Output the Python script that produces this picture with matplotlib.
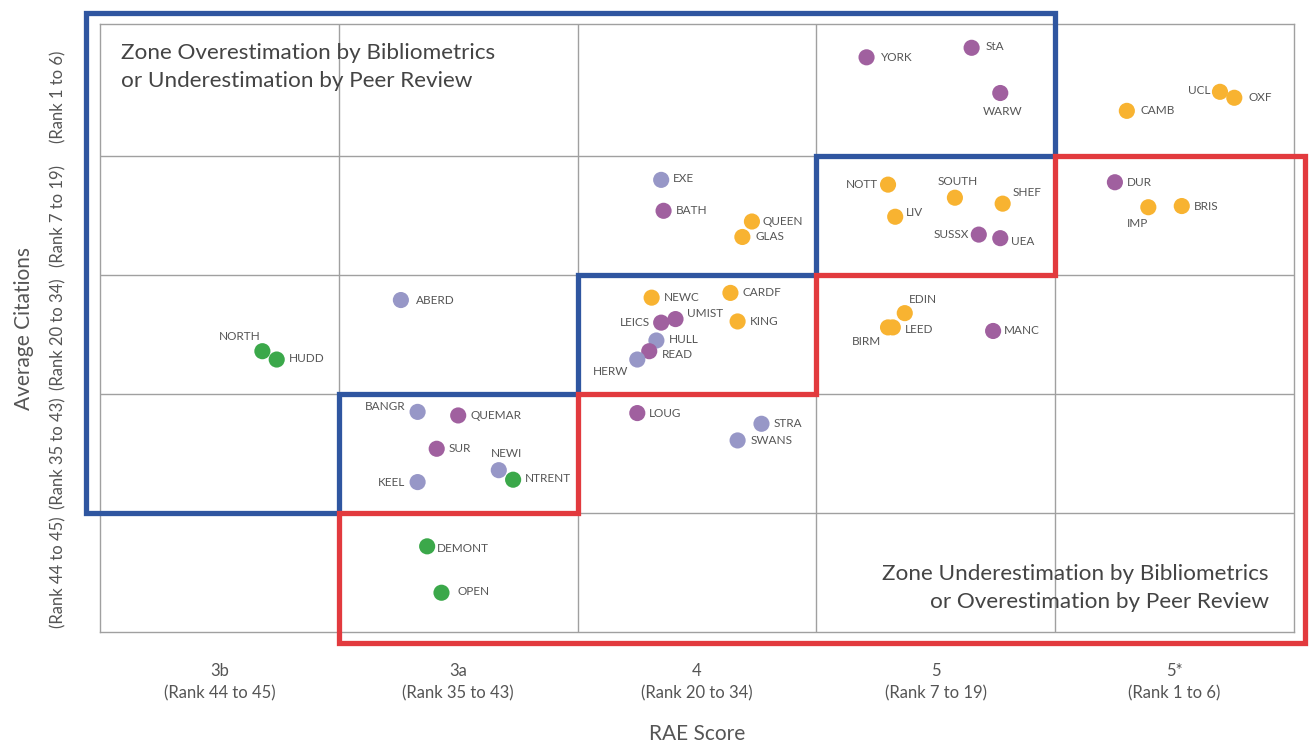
import matplotlib
matplotlib.use('Agg')
import matplotlib.pyplot as plt
from matplotlib.patches import Polygon

plt.rcParams['font.family'] = ['Lato', 'DejaVu Sans']

# columns = RAE score band, rows = citation band (0 = lowest)
x_labels = ['3b\n(Rank 44 to 45)', '3a\n(Rank 35 to 43)', '4\n(Rank 20 to 34)',
            '5\n(Rank 7 to 19)', '5*\n(Rank 1 to 6)']
y_labels = ['(Rank 44 to 45)', '(Rank 35 to 43)', '(Rank 20 to 34)',
            '(Rank 7 to 19)', '(Rank 1 to 6)']

names = ['YORK', 'StA', 'WARW', 'UCL', 'OXF', 'CAMB',
         'EXE', 'BATH', 'QUEEN', 'GLAS', 'NOTT', 'SOUTH', 'SHEF', 'LIV', 'SUSSX', 'UEA',
         'DUR', 'IMP', 'BRIS',
         'NEWC', 'CARDF', 'LEICS', 'UMIST', 'KING', 'HULL', 'READ', 'HERW',
         'EDIN', 'LEED', 'BIRM', 'MANC',
         'ABERD', 'NORTH', 'HUDD',
         'BANGR', 'QUEMAR', 'SUR', 'NEWI', 'NTRENT', 'KEEL', 'DEMONT', 'OPEN',
         'LOUG', 'STRA', 'SWANS']
rae = [3.21, 3.65, 3.77, 4.69, 4.75, 4.30,
       2.35, 2.36, 2.73, 2.69, 3.30, 3.58, 3.78, 3.33, 3.68, 3.77,
       4.25, 4.39, 4.53,
       2.31, 2.64, 2.35, 2.41, 2.67, 2.33, 2.30, 2.25,
       3.37, 3.32, 3.30, 3.74,
       1.26, 0.68, 0.74,
       1.33, 1.50, 1.41, 1.67, 1.73, 1.33, 1.37, 1.43,
       2.25, 2.77, 2.67]
cit = [4.83, 4.91, 4.53, 4.54, 4.49, 4.38,
       3.80, 3.54, 3.45, 3.32, 3.76, 3.65, 3.60, 3.49, 3.34, 3.31,
       3.78, 3.57, 3.58,
       2.81, 2.85, 2.60, 2.63, 2.61, 2.45, 2.36, 2.29,
       2.68, 2.56, 2.56, 2.53,
       2.79, 2.36, 2.29,
       1.85, 1.82, 1.54, 1.36, 1.28, 1.26, 0.72, 0.33,
       1.84, 1.75, 1.61]
group = ['p', 'p', 'p', 'o', 'o', 'o',
         'l', 'p', 'o', 'o', 'o', 'o', 'o', 'o', 'p', 'p',
         'p', 'o', 'o',
         'o', 'o', 'p', 'p', 'o', 'l', 'p', 'l',
         'o', 'o', 'o', 'p',
         'l', 'g', 'g',
         'l', 'p', 'p', 'l', 'g', 'l', 'g', 'g',
         'p', 'l', 'l']

colors = {'o': '#F8B331', 'p': '#A0609F', 'l': '#9797C7', 'g': '#3BA84A'}

# label placement: offset in pixels from the dot, horizontal alignment
place = {
    'YORK': (14, 0, 'left'), 'StA': (14, 1, 'left'), 'WARW': (2, -18, 'center'),
    'UCL': (-10, 1, 'right'), 'OXF': (14, 0, 'left'), 'CAMB': (14, 0, 'left'),
    'EXE': (12, 1, 'left'), 'BATH': (12, 0, 'left'), 'QUEEN': (11, 0, 'left'),
    'GLAS': (13, 0, 'left'), 'NOTT': (-10, 0, 'right'), 'SOUTH': (3, 16, 'center'),
    'SHEF': (10, 11, 'left'), 'LIV': (11, 4, 'left'), 'SUSSX': (-10, 0, 'right'),
    'UEA': (11, -3, 'left'), 'DUR': (12, 0, 'left'), 'IMP': (-11, -16, 'center'),
    'BRIS': (12, 0, 'left'), 'NEWC': (12, 0, 'left'), 'CARDF': (12, 0, 'left'),
    'LEICS': (-11, 0, 'right'), 'UMIST': (11, 6, 'left'), 'KING': (12, 0, 'left'),
    'HULL': (12, 1, 'left'), 'READ': (13, -3, 'left'), 'HERW': (-9, -12, 'right'),
    'EDIN': (4, 14, 'left'), 'LEED': (12, -2, 'left'), 'BIRM': (-7, -14, 'right'),
    'MANC': (11, 0, 'left'), 'ABERD': (15, 0, 'left'), 'NORTH': (-2, 15, 'right'),
    'HUDD': (12, 1, 'left'), 'BANGR': (-12, 5, 'right'), 'QUEMAR': (12, 0, 'left'),
    'SUR': (12, 0, 'left'), 'NEWI': (8, 17, 'center'), 'NTRENT': (12, 1, 'left'),
    'KEEL': (-12, 0, 'right'), 'DEMONT': (10, -2, 'left'), 'OPEN': (16, 1, 'left'),
    'LOUG': (12, 0, 'left'), 'STRA': (12, 0, 'left'), 'SWANS': (13, 0, 'left'),
}

fig = plt.figure(figsize=(13.09, 7.42), dpi=100)
ax = fig.add_axes([100 / 1309, 110 / 742, 1194 / 1309, 608 / 742])
ax.set_xlim(0, 5)
ax.set_ylim(0, 5.11)

grid_c = '#a0a0a0'
for s in ax.spines.values():
    s.set_color(grid_c)
    s.set_linewidth(1)
ax.set_xticks([1, 2, 3, 4], minor=True)
ax.set_yticks([1, 2, 3, 4], minor=True)
ax.grid(which='minor', color=grid_c, lw=1)
ax.tick_params(which='both', length=0)
ax.set_xticks([i + 0.5 for i in range(5)])
ax.set_xticklabels(x_labels, fontsize=12, color='#555555', linespacing=1.55)
ax.set_yticks([i + 0.5 for i in range(5)])
ax.set_yticklabels(y_labels, fontsize=12, color='#555555', rotation=90, va='center')
ax.tick_params(axis='x', pad=22)
ax.tick_params(axis='y', pad=24)
ax.set_xlabel('RAE Score', fontsize=15, color='#555555', labelpad=16)
ax.set_ylabel('Average Citations', fontsize=15, color='#555555', labelpad=12)

# zone outlines
blue = [(-0.06, 5.2), (4, 5.2), (4, 4), (3, 4), (3, 3), (2, 3), (2, 2),
        (1, 2), (1, 1), (-0.06, 1)]
red = [(1, 1), (1, -0.093), (5.047, -0.093), (5.047, 4), (4, 4), (4, 3),
       (3, 3), (3, 2), (2, 2), (2, 1)]
ax.add_patch(Polygon(blue, closed=True, fill=False, ec='#2F56A0', lw=3.8,
                     joinstyle='miter', clip_on=False, zorder=4))
ax.add_patch(Polygon(red, closed=True, fill=False, ec='#E23A3E', lw=3.8,
                     joinstyle='miter', clip_on=False, zorder=4))

ax.scatter(rae, cit, s=135, c=[colors[g] for g in group], edgecolors='none', zorder=5)
for n, x, y in zip(names, rae, cit):
    dx, dy, ha = place[n]
    ax.annotate(n, (x, y), xytext=(dx, dy), textcoords='offset pixels',
                ha=ha, va='center', fontsize=8.5, color='#555555', zorder=6)

ax.text(0.088, 4.95, 'Zone Overestimation by Bibliometrics\nor Underestimation by Peer Review',
        fontsize=16.2, color='#444444', va='top', ha='left', linespacing=1.5)
ax.text(4.895, 0.37, 'Zone Underestimation by Bibliometrics\nor Overestimation by Peer Review',
        fontsize=16.2, color='#444444', va='center', ha='right', multialignment='right',
        linespacing=1.5)

fig.savefig('out.png', dpi=100)
